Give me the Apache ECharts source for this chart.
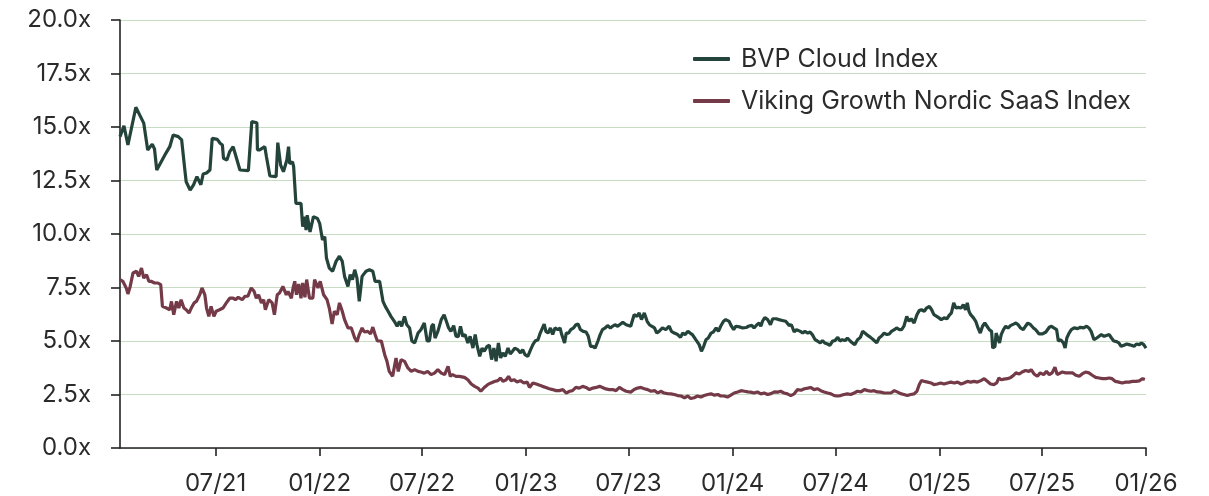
<!DOCTYPE html>
<html>
<head>
<meta charset="utf-8">
<script src="https://cdn.jsdelivr.net/npm/echarts@6/dist/echarts.min.js"></script>
<style>
  html, body { margin: 0; padding: 0; background: #fff; }
  #chart { width: 1209px; height: 496px; }
</style>
</head>
<body>
<div id="chart"></div>
<script>
// day offsets from 13 Jan 2021, EV/revenue multiple
const bvpCloud = [
  [0,14.55],[7,15.05],[14,14.16],[28,15.92],[42,15.18],[49,13.93],[57,14.2],[61,13.97],[65,12.99],[68,12.95],[81,13.77],[88,14.08],[94,14.63],[103,14.55],[109,14.4],[114,13.15],[117,12.44],[124,12.05],[130,12.3],[136,12.68],[143,12.3],[147,12.8],[153,12.85],[159,12.99],[163,14.47],[172,14.42],[177,14.24],[181,14.16],[183,13.54],[189,13.46],[194,13.85],[200,14.08],[203,14.08],[206,13.54],[209,13.46],[212,12.99],[227,12.96],[233,15.25],[242,15.2],[243,13.93],[247,13.93],[256,14.08],[259,13.6],[262,13.54],[265,12.71],[276,12.68],[279,14.27],[284,13.22],[289,12.91],[295,13.46],[298,14.08],[300,13.29],[305,13.37],[307,13.15],[311,11.43],[320,11.43],[323,10.34],[326,10.81],[329,10.18],[331,10.88],[336,10.1],[342,10.81],[349,10.73],[353,10.5],[358,9.72],[362,9.88],
  [365,8.88],[370,8.41],[376,8.26],[382,8.72],[388,8.96],[393,8.72],[397,8.02],[403,7.55],[407,8.1],[411,7.87],[415,8.33],[419,7.94],[423,6.85],[428,8.02],[435,8.26],[441,8.33],[447,8.26],[451,7.79],[459,7.79],[465,6.85],[469,6.62],[474,6.39],[479,6.15],[485,5.92],[490,5.69],[494,5.92],[498,5.69],[503,6.15],[507,5.76],[512,5.61],[516,5.0],[521,4.91],[527,5.37],[532,5.53],[538,5.84],[543,5.0],[547,5.0],[551,5.69],[554,5.79],[557,5.14],[562,5.45],[568,6.0],[573,6.23],[577,5.92],[581,5.61],[585,5.45],[590,5.72],[594,5.22],[598,5.2],
  [602,5.69],[606,5.22],[610,5.3],[615,4.91],[619,5.22],[624,4.67],[628,5.3],[631,4.83],[636,4.28],[640,4.67],[644,4.52],[649,4.75],[653,4.8],[657,4.13],[661,4.67],[665,4.05],[669,4.91],[673,4.21],[677,4.44],[681,4.28],[686,4.67],[690,4.39],[694,4.52],[698,4.67],[703,4.6],[708,4.44],[712,4.6],[716,4.36],[721,4.28],[726,4.6],[730,4.83],[734,5.0],[739,5.06],[743,5.37],[747,5.61],[750,5.79],[753,5.45],[757,5.37],[761,5.61],[765,5.3],[769,5.61],[774,5.53],[778,5.61],[781,5.3],[786,4.91],[789,5.37],[793,5.37],[797,5.53],[802,5.61],[806,5.76],[810,5.79],[814,5.53],[819,5.45],[824,5.42],[828,5.22],[832,4.75],[836,4.75],[840,4.67],[845,5.0],[849,5.3],[853,5.53],[858,5.61],[862,5.72],[867,5.61],[871,5.69],[875,5.76],[880,5.69],[885,5.79],[889,5.87],[895,5.76],
  [898,5.76],[903,5.69],[909,6.23],[914,6.15],[918,6.31],[922,6.0],[927,6.31],[932,5.92],[936,5.76],[940,5.69],[945,5.61],[949,5.37],[953,5.45],[959,5.61],[965,5.53],[971,5.69],[975,5.45],[980,5.37],[986,5.3],[991,5.17],[995,5.37],[999,5.3],[1004,5.45],[1008,5.37],[1012,5.3],[1018,5.06],[1024,4.83],[1028,4.52],[1032,4.75],[1036,5.06],[1040,5.14],[1045,5.37],[1049,5.42],[1054,5.61],[1058,5.45],[1062,5.69],[1067,5.92],[1071,6.0],[1077,5.92],[1081,5.69],[1085,5.53],[1089,5.69],[1095,5.66],[1101,5.61],[1107,5.63],[1111,5.69],[1117,5.73],[1121,5.61],[1126,5.76],[1130,5.84],[1133,5.69],[1136,5.92],[1140,6.1],[1145,6.0],[1150,5.76],[1154,6.04],[1160,6.04],[1165,6.0],[1171,5.96],[1177,5.92],[1183,5.73],[1187,5.76],[1192,5.42],[1196,5.53],
  [1198,5.61],[1203,5.45],[1207,5.37],[1211,5.45],[1216,5.37],[1220,5.42],[1224,5.3],[1229,5.06],[1233,5.0],[1238,4.91],[1242,5.02],[1246,4.91],[1251,4.86],[1255,4.8],[1260,5.0],[1264,5.02],[1269,5.17],[1273,5.0],[1277,5.06],[1282,5.02],[1286,5.14],[1291,5.0],[1295,4.91],[1299,4.83],[1304,5.06],[1309,5.17],[1313,5.45],[1317,5.37],[1322,5.26],[1327,5.17],[1332,5.06],[1338,4.91],[1342,5.14],[1346,5.22],[1351,5.37],[1356,5.3],[1360,5.33],[1364,5.45],[1369,5.53],[1373,5.61],[1378,5.53],[1382,5.53],[1386,5.69],[1391,6.15],[1395,5.92],[1399,6.04],[1404,5.84],[1409,6.23],[1413,6.42],[1417,6.46],[1422,6.39],[1426,6.54],[1431,6.62],[1435,6.46],[1439,6.23],[1444,6.15],[1448,6.08],[1452,6.0],[1457,6.08],[1462,6.04],[1466,6.2],[1470,6.31],[1474,6.78],[1478,6.54],[1482,6.57],[1487,6.54],[1491,6.7],[1495,6.46],
  [1498,6.78],[1501,6.39],[1504,6.23],[1509,6.08],[1513,5.92],[1517,5.61],[1521,5.37],[1525,5.69],[1529,5.84],[1532,5.76],[1537,5.53],[1541,5.45],[1543,4.67],[1547,4.75],[1549,5.37],[1552,5.3],[1555,4.91],[1558,5.3],[1562,5.53],[1566,5.69],[1570,5.61],[1575,5.73],[1580,5.79],[1584,5.84],[1588,5.76],[1592,5.61],[1597,5.53],[1601,5.69],[1605,5.84],[1610,5.76],[1615,5.61],[1619,5.53],[1625,5.33],[1631,5.33],[1637,5.42],[1643,5.64],[1647,5.69],[1651,5.61],[1656,5.53],[1659,5.0],[1663,5.06],[1668,4.91],[1671,4.67],[1674,5.14],[1678,5.37],[1682,5.53],[1687,5.61],[1693,5.58],[1698,5.64],[1704,5.61],[1709,5.69],[1713,5.61],[1717,5.45],[1722,5.06],[1727,5.14],[1731,5.22],[1735,5.3],[1740,5.22],[1744,5.26],[1749,5.3],[1753,5.14],[1757,5.0],[1762,4.97],[1766,4.91],[1770,4.75],[1775,4.8],[1780,4.86],[1784,4.83],[1788,4.8],[1793,4.75],[1797,4.86],[1802,4.83],[1806,4.91],[1810,4.83],[1814,4.67]
];

const vikingSaas = [
  [0,7.87],[5,7.79],[11,7.48],[14,7.2],[18,7.55],[23,8.18],[29,8.26],[33,8.02],[38,8.41],[42,7.94],[47,8.1],[51,7.79],[55,7.79],[61,7.71],[67,7.71],[72,7.63],[75,6.62],[82,6.54],[88,6.46],[91,6.85],[95,6.23],[100,6.85],[104,6.54],[108,6.93],[113,6.54],[117,6.46],[122,6.31],[126,6.54],[131,6.78],[135,6.85],[141,7.16],[145,7.48],[150,7.16],[153,6.54],[157,6.15],[161,6.62],[166,6.15],[170,6.39],[176,6.46],[182,6.54],[188,6.78],[194,7.0],[200,7.0],[204,6.93],[209,7.04],[216,6.93],[221,7.09],[226,7.09],[232,7.48],[237,7.32],[241,7.0],[245,7.16],[250,6.78],[254,6.93],[257,6.46],[263,6.93],[269,6.78],[273,6.23],[278,7.16],[282,7.24],[288,7.55],[294,7.16],
  [297,7.32],[303,7.0],[306,7.48],[309,7.79],[312,7.16],[316,7.66],[320,7.0],[323,7.71],[327,7.04],[330,7.87],[335,7.0],[341,7.0],[344,7.87],[350,7.48],[354,7.79],[360,7.16],[366,6.93],[370,6.54],[375,5.79],[379,6.39],[384,6.23],[388,6.78],[393,6.39],[397,6.0],[403,5.61],[409,5.61],[415,5.14],[419,4.97],[423,5.3],[428,5.61],[432,5.42],[438,5.45],[443,5.33],[447,5.65],[451,5.3],[455,5.0],[462,5.0],[468,4.36],[472,4.05],[476,3.58],[482,3.35],[488,4.2],[492,3.58],[497,4.13],[503,4.05],[509,3.74],[515,3.58],[521,3.66],[527,3.58],[532,3.55],[538,3.5],[544,3.58],[550,3.43],[556,3.5],[562,3.66],[568,3.5],[574,3.43],[580,3.82],[584,3.35],[588,3.43],[594,3.35],
  [600,3.35],[603,3.35],[609,3.3],[615,3.19],[621,2.99],[627,2.88],[633,2.8],[638,2.65],[644,2.83],[650,2.96],[656,3.04],[662,3.11],[668,3.15],[673,3.27],[677,3.11],[683,3.19],[687,3.35],[691,3.15],[697,3.19],[702,3.08],[708,3.15],[714,3.04],[720,3.08],[724,2.83],[730,3.04],[736,2.99],[742,2.93],[747,2.88],[753,2.83],[759,2.77],[765,2.73],[771,2.68],[777,2.68],[783,2.73],[789,2.57],[795,2.65],[800,2.68],[806,2.83],[812,2.8],[818,2.88],[824,2.83],[830,2.73],[836,2.8],[842,2.83],[848,2.88],[853,2.83],[859,2.76],[865,2.73],[871,2.73],[877,2.68],[883,2.83],[889,2.73],[895,2.65],
  [903,2.61],[909,2.73],[915,2.8],[921,2.83],[927,2.77],[933,2.73],[939,2.65],[945,2.68],[951,2.57],[956,2.65],[962,2.57],[968,2.54],[974,2.53],[980,2.5],[986,2.45],[992,2.43],[998,2.35],[1004,2.43],[1009,2.31],[1015,2.35],[1021,2.43],[1027,2.38],[1033,2.45],[1039,2.5],[1045,2.53],[1051,2.47],[1057,2.5],[1062,2.43],[1068,2.43],[1074,2.38],[1080,2.47],[1086,2.57],[1092,2.62],[1098,2.68],[1104,2.65],[1110,2.62],[1115,2.61],[1121,2.57],[1127,2.62],[1133,2.53],[1139,2.57],[1145,2.5],[1151,2.54],[1157,2.62],[1163,2.61],[1168,2.65],[1174,2.57],[1180,2.53],[1186,2.45],[1192,2.53],
  [1198,2.73],[1204,2.7],[1210,2.77],[1216,2.8],[1221,2.83],[1227,2.73],[1233,2.77],[1239,2.68],[1245,2.62],[1251,2.57],[1257,2.53],[1263,2.45],[1269,2.43],[1274,2.45],[1280,2.5],[1286,2.53],[1292,2.5],[1298,2.57],[1304,2.65],[1310,2.62],[1316,2.73],[1322,2.68],[1328,2.65],[1333,2.68],[1339,2.62],[1345,2.61],[1351,2.57],[1357,2.57],[1363,2.57],[1369,2.68],[1375,2.61],[1380,2.54],[1386,2.5],[1392,2.45],[1398,2.5],[1404,2.53],[1409,2.65],[1413,2.96],[1417,3.15],[1422,3.11],[1428,3.08],[1434,3.04],[1439,2.96],[1445,2.99],[1451,3.04],[1457,2.99],[1463,3.04],[1469,3.08],[1475,3.04],[1481,3.08],[1487,2.99],[1492,3.04],
  [1498,3.11],[1504,3.08],[1510,3.11],[1516,3.08],[1522,3.15],[1528,3.24],[1534,3.11],[1539,2.99],[1545,2.96],[1550,3.04],[1554,3.27],[1558,3.19],[1563,3.22],[1569,3.24],[1575,3.3],[1580,3.4],[1584,3.51],[1590,3.46],[1595,3.55],[1601,3.62],[1607,3.58],[1611,3.66],[1616,3.46],[1622,3.35],[1627,3.51],[1633,3.43],[1638,3.58],[1643,3.43],[1648,3.51],[1653,3.77],[1657,3.43],[1666,3.55],[1672,3.51],[1678,3.51],[1684,3.51],[1690,3.4],[1696,3.35],[1701,3.46],[1707,3.55],[1713,3.51],[1719,3.4],[1725,3.3],[1731,3.27],[1737,3.24],[1743,3.24],[1749,3.27],[1754,3.24],[1760,3.11],[1766,3.08],[1772,3.04],[1778,3.08],[1784,3.08],[1790,3.11],[1796,3.11],[1802,3.14],[1808,3.24],[1812,3.2]
];

const seriesNames = ['BVP Cloud Index', 'Viking Growth Nordic SaaS Index'];
const seriesColors = ['#24433a', '#743a48'];
// x-axis tick dates (year, month index) -> shown as MM/YY
const tickDates = [[2021,6],[2022,0],[2022,6],[2023,0],[2023,6],[2024,0],[2024,6],[2025,0],[2025,6],[2026,0]];

const DAY = 86400000;
const start = Date.UTC(2021, 0, 13);
const dayOf = (y, m) => Math.round((Date.UTC(y, m, 1) - start) / DAY);
const tickDays = tickDates.map(t => dayOf(t[0], t[1]));
const lastDay = dayOf(2026, 0);

const pad = (n) => (n < 10 ? '0' : '') + n;
const fontFamily = 'Inter, "Noto Sans", sans-serif';
const textColor = '#2b2b2b';

const chart = echarts.init(document.getElementById('chart'), null, { renderer: 'canvas' });
chart.setOption({
  animation: false,
  backgroundColor: '#fff',
  grid: { left: 120, right: 63, top: 20, bottom: 48, outerBoundsMode: 'none' },
  legend: {
    orient: 'vertical',
    left: 693,
    top: 44,
    padding: 0,
    icon: 'roundRect',
    itemWidth: 37,
    itemHeight: 4,
    itemGap: 12,
    textStyle: { fontFamily, fontSize: 25, color: textColor, lineHeight: 30, padding: [0, 0, 0, 6] },
    data: seriesNames
  },
  xAxis: {
    type: 'value',
    min: 0,
    max: lastDay,
    axisLine: { lineStyle: { color: '#222', width: 1.6 } },
    axisTick: { show: true, length: 8, customValues: tickDays, lineStyle: { color: '#222', width: 1.6 } },
    axisLabel: {
      customValues: tickDays,
      margin: 24,
      fontFamily, fontSize: 24, color: textColor,
      formatter: (v) => { const d = new Date(start + v * DAY); return pad(d.getUTCMonth() + 1) + '/' + pad(d.getUTCFullYear() % 100); }
    },
    splitLine: { show: false }
  },
  yAxis: {
    type: 'value',
    min: 0,
    max: 20,
    interval: 2.5,
    axisLine: { show: true, lineStyle: { color: '#222', width: 1.6 } },
    axisTick: { show: true, length: 9, lineStyle: { color: '#222', width: 1.6 } },
    axisLabel: {
      margin: 29,
      fontFamily, fontSize: 24, color: textColor,
      formatter: (v) => v.toFixed(1) + 'x'
    },
    splitLine: { lineStyle: { color: '#c8dcc4', width: 1.2 } }
  },
  series: [bvpCloud, vikingSaas].map((rows, i) => ({
    name: seriesNames[i],
    type: 'line',
    data: rows,
    showSymbol: false,
    symbol: 'none',
    color: seriesColors[i],
    lineStyle: { color: seriesColors[i], width: 3.2 },
    emphasis: { disabled: true }
  }))
});
</script>
</body>
</html>
